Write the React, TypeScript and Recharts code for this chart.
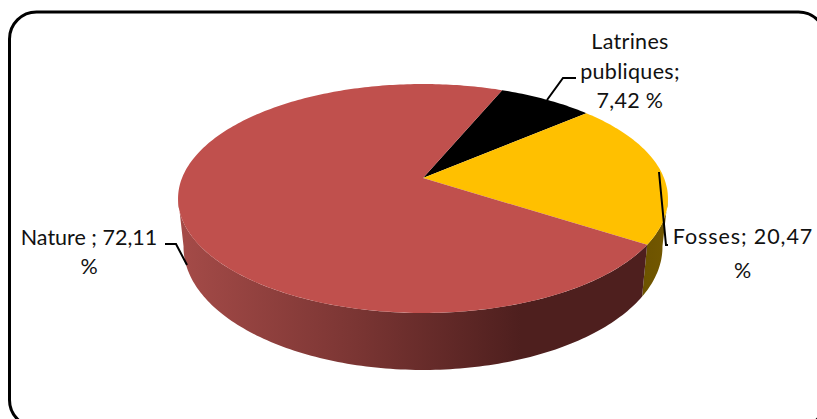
import { Pie, PieChart } from 'recharts'

const names = ['Latrines publiques', 'Fosses', 'Nature']
const shares = [7.42, 20.47, 72.11]
const topColors = ['#000000', '#FFC000', '#C0504D']
const wallColors = ['#000000', 'url(#wallYellow)', 'url(#wallRed)']

const rows = names.map((name, i) => ({
  name,
  value: shares[i],
  fill: topColors[i],
  wall: wallColors[i],
}))

const CX = 423
const CY = 178
const START = 67.5
// perspective strength: the far edge of the disc shrinks, the near edge grows
const K = 0.179
const TOP = { rx: 241, ry: 110.8, cy: CY }
const BOTTOM = { rx: 235.6, ry: 119, cy: 225 }
// the wall only shows between these two angles
const WALL_RIGHT = -10
const WALL_LEFT = -170

type Ring = typeof TOP

const project = (deg: number, ring: Ring) => {
  const t = (deg * Math.PI) / 180
  const w = 1 + K * Math.sin(t)
  return [CX + (ring.rx * Math.cos(t)) / w, ring.cy - (ring.ry * Math.sin(t)) / w]
}

const arc = (from: number, to: number, ring: Ring) => {
  const steps = Math.max(2, Math.ceil(Math.abs(to - from)))
  const points: string[] = []
  for (let i = 0; i <= steps; i++) {
    const [x, y] = project(from + ((to - from) * i) / steps, ring)
    points.push(`${x.toFixed(2)},${y.toFixed(2)}`)
  }
  return points
}

const TopFace = (props: any) => (
  <path
    d={`M${CX},${CY} L${arc(props.startAngle, props.endAngle, TOP).join(' L')} Z`}
    fill={props.payload?.fill ?? props.fill}
  />
)

const SideWall = (props: any) => {
  const from = Math.min(props.startAngle, WALL_RIGHT)
  const to = Math.max(props.endAngle, WALL_LEFT)
  if (from <= to) return null
  const upper = arc(from, to, TOP)
  const lower = arc(to, from, BOTTOM)
  return <path d={`M${[...upper, ...lower].join(' L')} Z`} fill={props.payload?.wall ?? props.wall} />
}

const pct = (v: number) => v.toFixed(2).replace('.', ',')

const leaders = ['547,100 563,78 576,78', '659,172 666,245 668,245', '165,244 176,244 187,265']
const labelLines = [
  ['Latrines', 'publiques;', `${pct(shares[0])} %`],
  [`${names[1]}; ${pct(shares[1])}`, '%'],
  [`${names[2]} ; ${pct(shares[2])}`, '%'],
]
const labelX = [630, 743, 89]
const labelY = [
  [49, 79, 108],
  [244, 278],
  [245, 274],
]
const labelSpacing = [0.3, 0.9, 0]

const SliceLabel = ({ index }: any) => (
  <g>
    <polyline points={leaders[index]} fill="none" stroke="#000" strokeWidth={2} />
    {labelLines[index].map((line, i) => (
      <text
        key={i}
        x={labelX[index]}
        y={labelY[index][i]}
        textAnchor="middle"
        fontFamily="Lato, sans-serif"
        fontSize={21.5}
        letterSpacing={labelSpacing[index]}
        fill="#111111"
      >
        {line}
      </text>
    ))}
  </g>
)

export default function App() {
  return (
    <div style={{ position: 'absolute', left: 0, top: 0, width: 817, height: 419, overflow: 'hidden', background: '#fff' }}>
      <PieChart width={817} height={419} margin={{ top: 0, right: 0, bottom: 0, left: 0 }}>
        <defs>
          <linearGradient id="wallRed" gradientUnits="userSpaceOnUse" x1="178" y1="0" x2="668" y2="0">
            <stop offset="0" stopColor="#A54B48" />
            <stop offset="0.35" stopColor="#7C3634" />
            <stop offset="0.7" stopColor="#4E1F1E" />
            <stop offset="1" stopColor="#4E1F1E" />
          </linearGradient>
          <linearGradient id="wallYellow" gradientUnits="userSpaceOnUse" x1="630" y1="0" x2="668" y2="0">
            <stop offset="0" stopColor="#695000" />
            <stop offset="1" stopColor="#735800" />
          </linearGradient>
        </defs>
        <rect x={9.5} y={12} width={816} height={415} rx={27} fill="#fff" stroke="#000" strokeWidth={3} />
        <Pie
          data={rows}
          dataKey="value"
          nameKey="name"
          cx={CX}
          cy={CY}
          outerRadius={120}
          startAngle={START}
          endAngle={START - 360}
          stroke="none"
          shape={SideWall}
          isAnimationActive={false}
        />
        <Pie
          data={rows}
          dataKey="value"
          nameKey="name"
          cx={CX}
          cy={CY}
          outerRadius={120}
          startAngle={START}
          endAngle={START - 360}
          stroke="none"
          shape={TopFace}
          label={SliceLabel}
          labelLine={false}
          isAnimationActive={false}
        />
      </PieChart>
    </div>
  )
}
